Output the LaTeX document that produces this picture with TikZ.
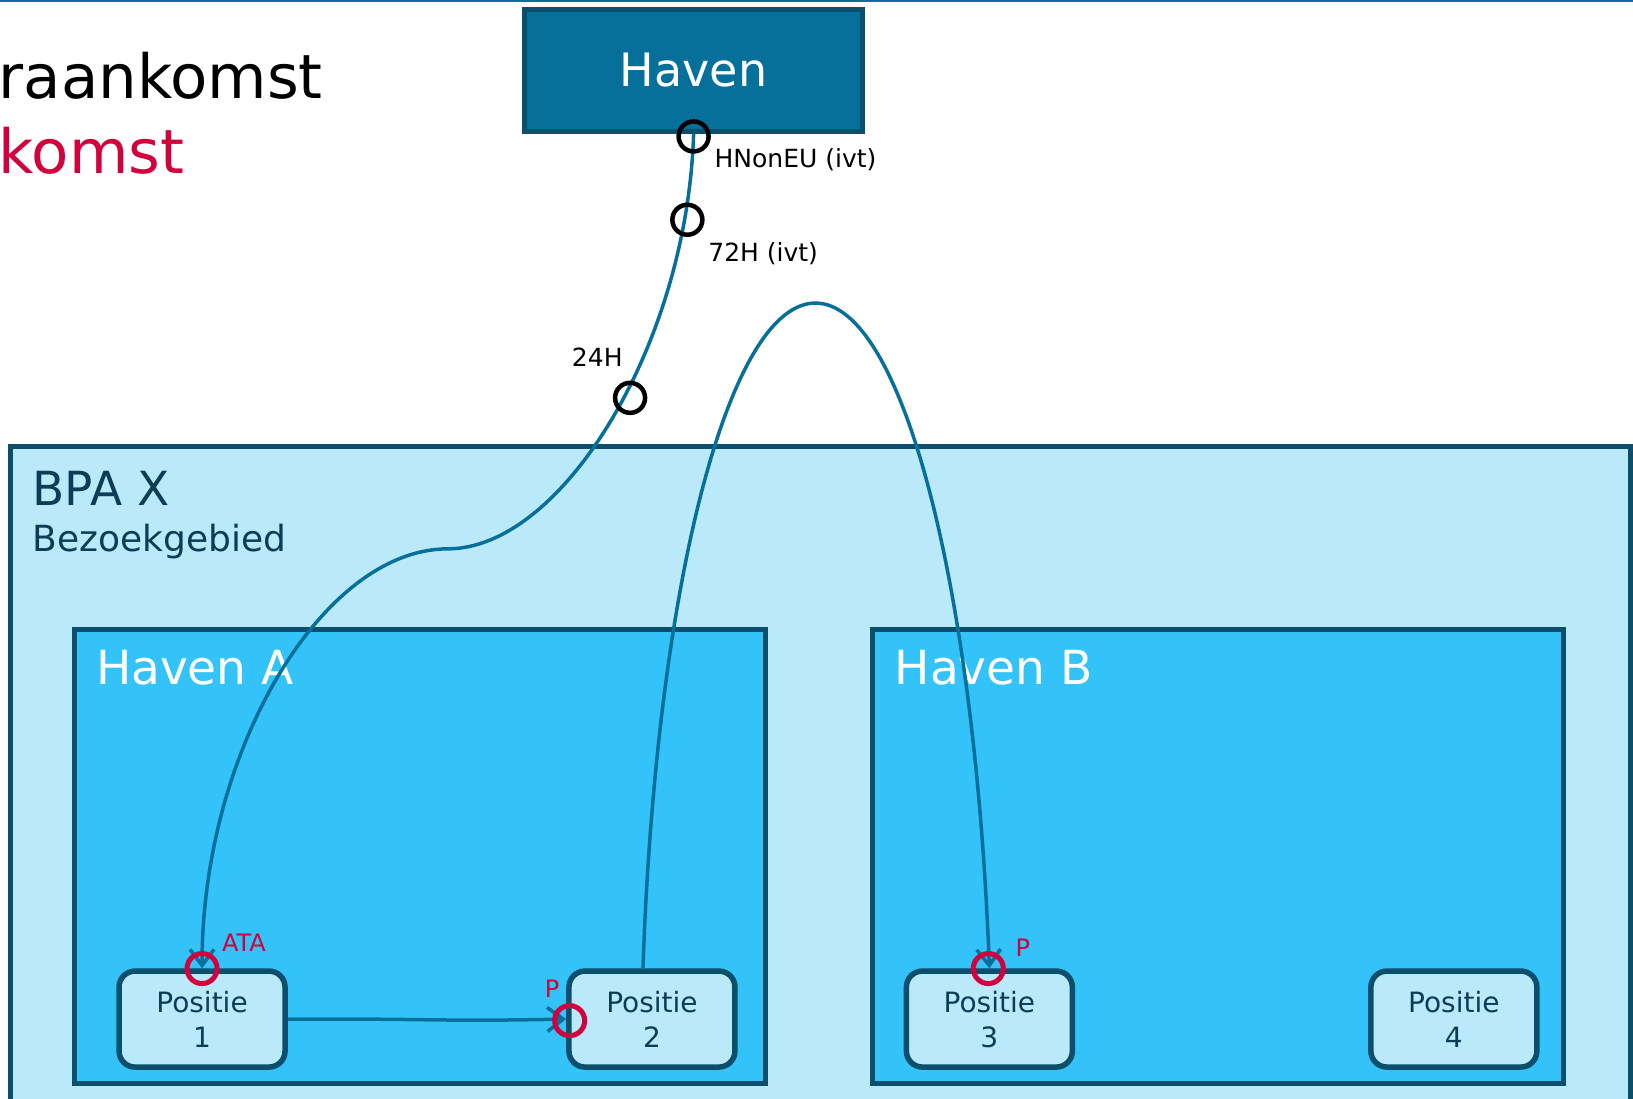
\documentclass[tikz,border=0pt]{standalone}
\usepackage{fontspec}
\setmainfont{DejaVu Sans}
\usetikzlibrary{arrows.meta,positioning}

\definecolor{lijnblauw}{HTML}{06709A}
\definecolor{randblauw}{HTML}{0B4F6C}
\definecolor{tekstblauw}{HTML}{0B3D54}
\definecolor{lichtblauw}{HTML}{BAEAFA}
\definecolor{helderblauw}{HTML}{33C3F8}
\definecolor{rood}{HTML}{D2003C}

\tikzset{
	gebied/.style={fill=lichtblauw, draw=randblauw, line width=5pt},
	havenvak/.style={fill=helderblauw, draw=randblauw, line width=5pt},
	positie/.style={rectangle, rounded corners=16pt, fill=lichtblauw, draw=randblauw, line width=5.5pt,
		minimum width=166pt, minimum height=96pt, align=center, text=tekstblauw,
		font=\fontsize{28}{35}\selectfont},
	verbinding/.style={draw=lijnblauw, line width=3.5pt, -{Straight Barb[length=16pt,width=24pt]}},
	meldpunt/.style={circle, draw=black, line width=4.5pt, minimum size=30pt, inner sep=0pt},
	registratie/.style={circle, draw=rood, line width=5pt, minimum size=30pt, inner sep=0pt},
	label/.style={anchor=base west, inner sep=0pt, font=\fontsize{25}{30}\selectfont},
	roodlabel/.style={anchor=base west, inner sep=0pt, text=rood, font=\fontsize{24}{28}\selectfont}
}

\begin{document}
\begin{tikzpicture}[x=1.0415pt, y=-1.0415pt]
	\useasboundingbox (0,0) rectangle (1568,1055);
	\clip (0,0) rectangle (1568,1055);

	\draw[lijnblauw, line width=2pt] (0,1)--(1568,1);	%bovenrand

	\node[anchor=base east, inner sep=0pt, font=\fontsize{61}{72}\selectfont] (titel) at (310,95) {raankomst};
	\node[anchor=base east, inner sep=0pt, text=rood, font=\fontsize{61}{72}\selectfont] (subtitel) at (177,167) {komst};

	\node[rectangle, fill=lijnblauw, draw=randblauw, line width=4.5pt, minimum width=338pt, minimum height=122pt,
		text=white, font=\fontsize{46}{55}\selectfont] (haven) at (666,67.5) {Haven};

	% bezoekgebied
	\filldraw[gebied] (10,429) rectangle (1566,1080);
	\node[anchor=base west, inner sep=0pt, text=tekstblauw, font=\fontsize{47}{56}\selectfont] (bpa) at (31,485) {BPA X};
	\node[anchor=base west, inner sep=0pt, text=tekstblauw, font=\fontsize{36}{43}\selectfont] (bezoek) at (31,530) {Bezoekgebied};

	% havens
	\filldraw[havenvak] (72,604) rectangle (735,1040);
	\filldraw[havenvak] (838,604) rectangle (1501,1040);
	\node[anchor=base west, inner sep=0pt, text=white, font=\fontsize{47}{56}\selectfont] (havenA) at (92,657) {Haven A};
	\node[anchor=base west, inner sep=0pt, text=white, font=\fontsize{47}{56}\selectfont] (havenB) at (859,657) {Haven B};

	% posities
	\node[positie] (p1) at (194,978.5) {Positie\\1};
	\node[positie] (p2) at (626,978.5) {Positie\\2};
	\node[positie] (p3) at (950,978.5) {Positie\\3};
	\node[positie] (p4) at (1396,978.5) {Positie\\4};

	% verbindingen
	\draw[verbinding] (haven.south) .. controls (660,330) and (540,527) .. (430,527)
		.. controls (310,527) and (194,720) .. (p1.north);
	\draw[verbinding] ([xshift=-9pt]p2.north) .. controls (630,560) and (700,291) .. (783,291)
		.. controls (866,291) and (936,560) .. (p3.north);
	\draw[verbinding] (p1.east) .. controls (420,978) and (420,981) .. (p2.west);

	% meldpunten
	\node[meldpunt] (m1) at (666,131) {};
	\node[meldpunt] (m2) at (660,211) {};
	\node[meldpunt] (m3) at (605,382) {};
	\node[label] (l1) at (686,161) {HNonEU (ivt)};
	\node[label] (l2) at (680,251) {72H (ivt)};
	\node[label] (l3) at (549,352) {24H};

	\node[registratie] (r1) at (194,930) {};
	\node[registratie] (r2) at (547,980) {};
	\node[registratie] (r3) at (949,930) {};
	\node[roodlabel] (ata) at (213,914) {ATA};
	\node[roodlabel] (rp2) at (523,958) {P};
	\node[roodlabel] (rp3) at (975,918) {P};
\end{tikzpicture}
\end{document}
